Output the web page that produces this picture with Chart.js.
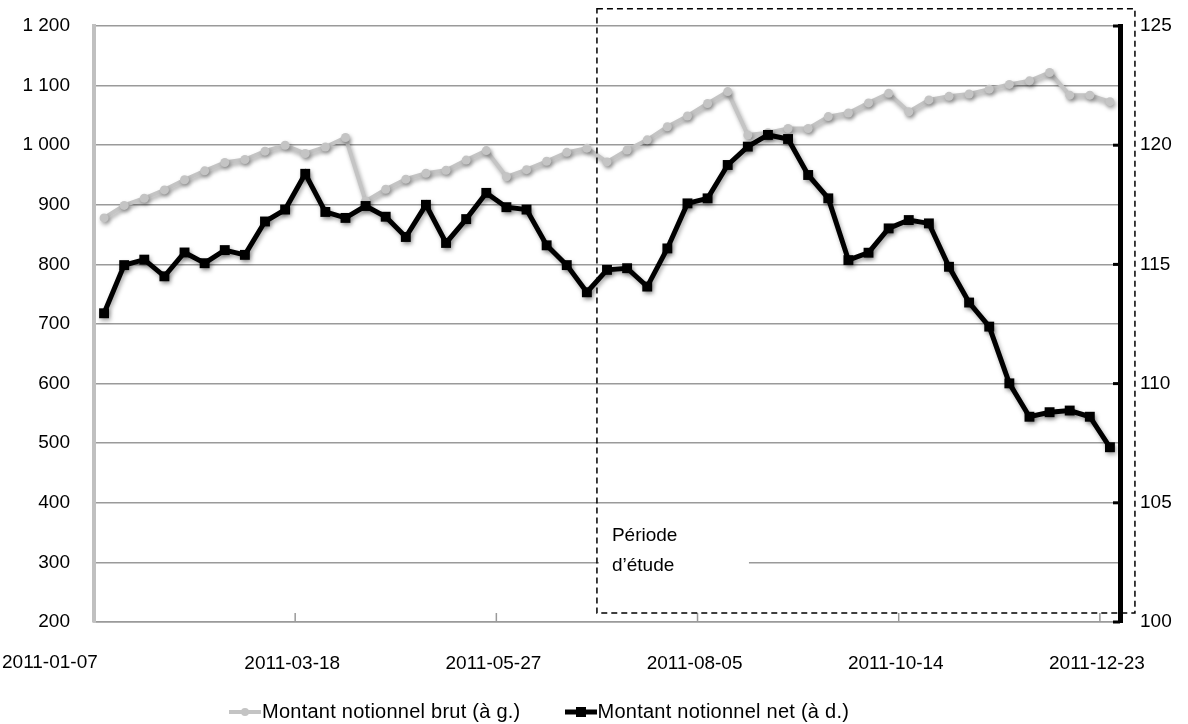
<!DOCTYPE html>
<html lang="fr">
<head>
<meta charset="utf-8">
<title>Montant notionnel brut et net</title>
<script src="https://cdn.jsdelivr.net/npm/chart.js@4"></script>
<style>
  html, body { margin: 0; padding: 0; background: #fff; }
  #wrap { width: 1188px; height: 724px; position: relative; }
  #legend {
    position: absolute; left: 229px; top: 699px;
    font: 20px "Liberation Sans", Arial, sans-serif; color: #000;
    letter-spacing: 0.25px;
    white-space: nowrap; line-height: 24px;
  }
  #legend .item { display: inline-block; margin-right: 44px; }
  #legend canvas { vertical-align: middle; margin-right: 1px; position: relative; top: -1px; }
</style>
</head>
<body>
<div id="wrap">
  <canvas id="notionnelChart"></canvas>
  <div id="legend"></div>
</div>
<script>
// Semaines (vendredi) de 2011
const weeks = [
  '2011-01-07', '2011-01-14', '2011-01-21', '2011-01-28',
  '2011-02-04', '2011-02-11', '2011-02-18', '2011-02-25',
  '2011-03-04', '2011-03-11', '2011-03-18', '2011-03-25',
  '2011-04-01', '2011-04-08', '2011-04-15', '2011-04-22', '2011-04-29',
  '2011-05-06', '2011-05-13', '2011-05-20', '2011-05-27',
  '2011-06-03', '2011-06-10', '2011-06-17', '2011-06-24',
  '2011-07-01', '2011-07-08', '2011-07-15', '2011-07-22', '2011-07-29',
  '2011-08-05', '2011-08-12', '2011-08-19', '2011-08-26',
  '2011-09-02', '2011-09-09', '2011-09-16', '2011-09-23', '2011-09-30',
  '2011-10-07', '2011-10-14', '2011-10-21', '2011-10-28',
  '2011-11-04', '2011-11-11', '2011-11-18', '2011-11-25',
  '2011-12-02', '2011-12-09', '2011-12-16', '2011-12-23'
];

// Montant notionnel brut (axe gauche)
const montantBrut = [
  878, 899, 911, 925, 942, 957, 971, 976, 990, 1000,
  986, 997, 1013, 906, 926, 943, 953, 958, 975, 991,
  947, 959, 973, 988, 995, 972, 992, 1009, 1031, 1049,
  1070, 1090, 1017, 1021, 1028, 1028, 1048, 1054, 1071, 1087,
  1056, 1076, 1082, 1086, 1094, 1102, 1108, 1122, 1084, 1084,
  1073
];

// Montant notionnel net (axe droit)
const montantNet = [
  112.95, 114.97, 115.2, 114.5, 115.5, 115.05, 115.6, 115.4, 116.8, 117.3,
  118.8, 117.2, 116.95, 117.45, 117.0, 116.15, 117.5, 115.9, 116.9, 118.0,
  117.4, 117.3, 115.8, 114.97, 113.83, 114.77, 114.84, 114.07, 115.67, 117.56,
  117.77, 119.17, 119.94, 120.43, 120.26, 118.75, 117.77, 115.18, 115.49, 116.51,
  116.86, 116.72, 114.9, 113.4, 112.39, 110.01, 108.61, 108.8, 108.87, 108.61,
  107.33
];

const leftTickLabels = ['200', '300', '400', '500', '600', '700', '800', '900', '1 000', '1 100', '1 200'];
const rightTickLabels = ['100', '105', '110', '115', '120', '125'];
const labelEvery = 10;

// période d'étude : de la 25e semaine jusqu'à la fin
const studyStart = 24.5;

const FONT = { family: '"Liberation Sans", Arial, sans-serif', size: 19 };
const GREY = '#c4c4c4';
const GRID = '#9a9a9a';

// petite image ligne + marqueur pour la légende
function legendSwatch(color, lineW, marker) {
    const c = document.createElement('canvas');
    c.width = 32;
    c.height = 14;
    const g = c.getContext('2d');
    g.strokeStyle = color;
    g.fillStyle = color;
    g.lineWidth = lineW;
    g.beginPath();
    g.moveTo(0, 7);
    g.lineTo(32, 7);
    g.stroke();
    if (marker === 'rect') {
        g.fillRect(11, 2, 10, 10);
    } else {
        g.beginPath();
        g.arc(16, 7, 4, 0, Math.PI * 2);
        g.fill();
    }
    return c;
}

// on garde la zone de tracé calée sur layout.padding
function noLabelOverflow(scale) {
    scale.paddingTop = 0;
    scale.paddingBottom = 0;
}

// décorations : ombre, repères, encadré "Période d'étude"
const decorPlugin = {
    id: 'decor',
    beforeDatasetsDraw(chart) {
        const ctx = chart.ctx;
        ctx.save();
        ctx.shadowColor = 'rgba(0, 0, 0, 0.35)';
        ctx.shadowBlur = 4;
        ctx.shadowOffsetX = 1.5;
        ctx.shadowOffsetY = 2.5;
    },
    afterDatasetsDraw(chart) {
        const ctx = chart.ctx;
        ctx.restore();

        const x = chart.scales.x;
        const y = chart.scales.y;
        const y1 = chart.scales.y1;
        const area = chart.chartArea;

        // repères de l'axe horizontal
        ctx.save();
        ctx.strokeStyle = GRID;
        ctx.lineWidth = 1.5;
        for (let i = labelEvery; i < weeks.length; i += labelEvery) {
            const px = (x.getPixelForValue(i - 1) + x.getPixelForValue(i)) / 2;
            ctx.beginPath();
            ctx.moveTo(px, area.bottom - 9);
            ctx.lineTo(px, area.bottom);
            ctx.stroke();
        }
        // repères de l'axe droit
        ctx.strokeStyle = '#000';
        ctx.lineWidth = 3;
        y1.ticks.forEach(t => {
            const py = y1.getPixelForValue(t.value);
            ctx.beginPath();
            ctx.moveTo(area.right - 7, py);
            ctx.lineTo(area.right, py);
            ctx.stroke();
        });

        // première date, au bord gauche comme dans l'original
        ctx.fillStyle = '#000';
        ctx.font = FONT.size + 'px ' + FONT.family;
        ctx.textAlign = 'left';
        ctx.textBaseline = 'middle';
        ctx.fillText(weeks[0], 2, area.bottom + 41);
        ctx.restore();

        // encadré pointillé
        const left = x.getPixelForValue(studyStart);
        const right = x.getPixelForValue(weeks.length - 1) + 25;
        const top = y.getPixelForValue(1229);
        const bottom = y.getPixelForValue(215);
        ctx.save();
        ctx.strokeStyle = '#000';
        ctx.lineWidth = 1.5;
        ctx.setLineDash([6, 4]);
        ctx.strokeRect(left, top, right - left, bottom - top);
        ctx.setLineDash([]);

        // étiquette
        const boxTop = y.getPixelForValue(372);
        const boxBottom = y.getPixelForValue(262);
        ctx.fillStyle = '#fff';
        ctx.fillRect(left + 2, boxTop, 150, boxBottom - boxTop);
        ctx.fillStyle = '#000';
        ctx.font = FONT.size + 'px ' + FONT.family;
        ctx.textBaseline = 'middle';
        ctx.textAlign = 'left';
        ctx.fillText('Période', left + 15, y.getPixelForValue(344));
        ctx.fillText('d\u2019étude', left + 15, y.getPixelForValue(294));
        ctx.restore();
    }
};

const ctx = document.getElementById('notionnelChart').getContext('2d');

const chart = new Chart(ctx, {
    type: 'line',
    data: {
        labels: weeks,
        datasets: [
            {
                label: 'Montant notionnel brut (à g.)',
                data: montantBrut,
                yAxisID: 'y',
                borderColor: GREY,
                backgroundColor: GREY,
                borderWidth: 4,
                pointStyle: 'circle',
                pointRadius: 4.5,
                pointBackgroundColor: GREY,
                pointBorderWidth: 0,
                tension: 0,
                order: 2
            },
            {
                label: 'Montant notionnel net (à d.)',
                data: montantNet,
                yAxisID: 'y1',
                borderColor: '#000',
                backgroundColor: '#000',
                borderWidth: 5,
                pointStyle: 'rect',
                pointRadius: 7,
                pointBackgroundColor: '#000',
                pointBorderWidth: 0,
                tension: 0,
                order: 1
            }
        ]
    },
    options: {
        responsive: true,
        maintainAspectRatio: false,
        animation: false,
        layout: {
            padding: { top: 26, right: 0, bottom: 0, left: 0 }
        },
        plugins: {
            tooltip: { enabled: false },
            legend: { display: false }
        },
        scales: {
            x: {
                offset: true,
                grid: { display: false },
                border: { color: GRID, width: 1.5 },
                ticks: {
                    autoSkip: false,
                    maxRotation: 0,
                    padding: 22,
                    labelOffset: -13,
                    color: '#000',
                    font: FONT,
                    callback: function(value, index) {
                        // la première date est dessinée par le plugin
                        return index > 0 && index % labelEvery === 0 ? weeks[index] : '';
                    }
                },
                afterFit: function(scale) { scale.height = 102; }
            },
            y: {
                position: 'left',
                min: 200,
                max: 1200,
                grid: { color: GRID, lineWidth: 1.5, drawTicks: false },
                border: { color: '#c0c0c0', width: 4 },
                ticks: {
                    stepSize: 100,
                    padding: 24,
                    color: '#000',
                    font: FONT,
                    callback: function(value) {
                        return leftTickLabels[Math.round((value - 200) / 100)];
                    }
                },
                afterFit: function(scale) {
                    scale.width = 94;
                    noLabelOverflow(scale);
                }
            },
            y1: {
                position: 'right',
                min: 100,
                max: 125,
                grid: { display: false, drawTicks: false },
                border: { color: '#000', width: 5 },
                ticks: {
                    stepSize: 5,
                    padding: 20,
                    color: '#000',
                    font: FONT,
                    callback: function(value) {
                        return rightTickLabels[Math.round((value - 100) / 5)];
                    }
                },
                afterFit: function(scale) {
                    scale.width = 68;
                    noLabelOverflow(scale);
                }
            }
        }
    },
    plugins: [decorPlugin]
});

// légende HTML (ligne + marqueur, texte réel)
const legendEl = document.getElementById('legend');
chart.data.datasets.forEach((ds, i) => {
    const item = document.createElement('span');
    item.className = 'item';
    item.appendChild(i === 0 ? legendSwatch(GREY, 4, 'circle') : legendSwatch('#000', 5, 'rect'));
    item.appendChild(document.createTextNode(ds.label));
    legendEl.appendChild(item);
});
</script>
</body>
</html>
